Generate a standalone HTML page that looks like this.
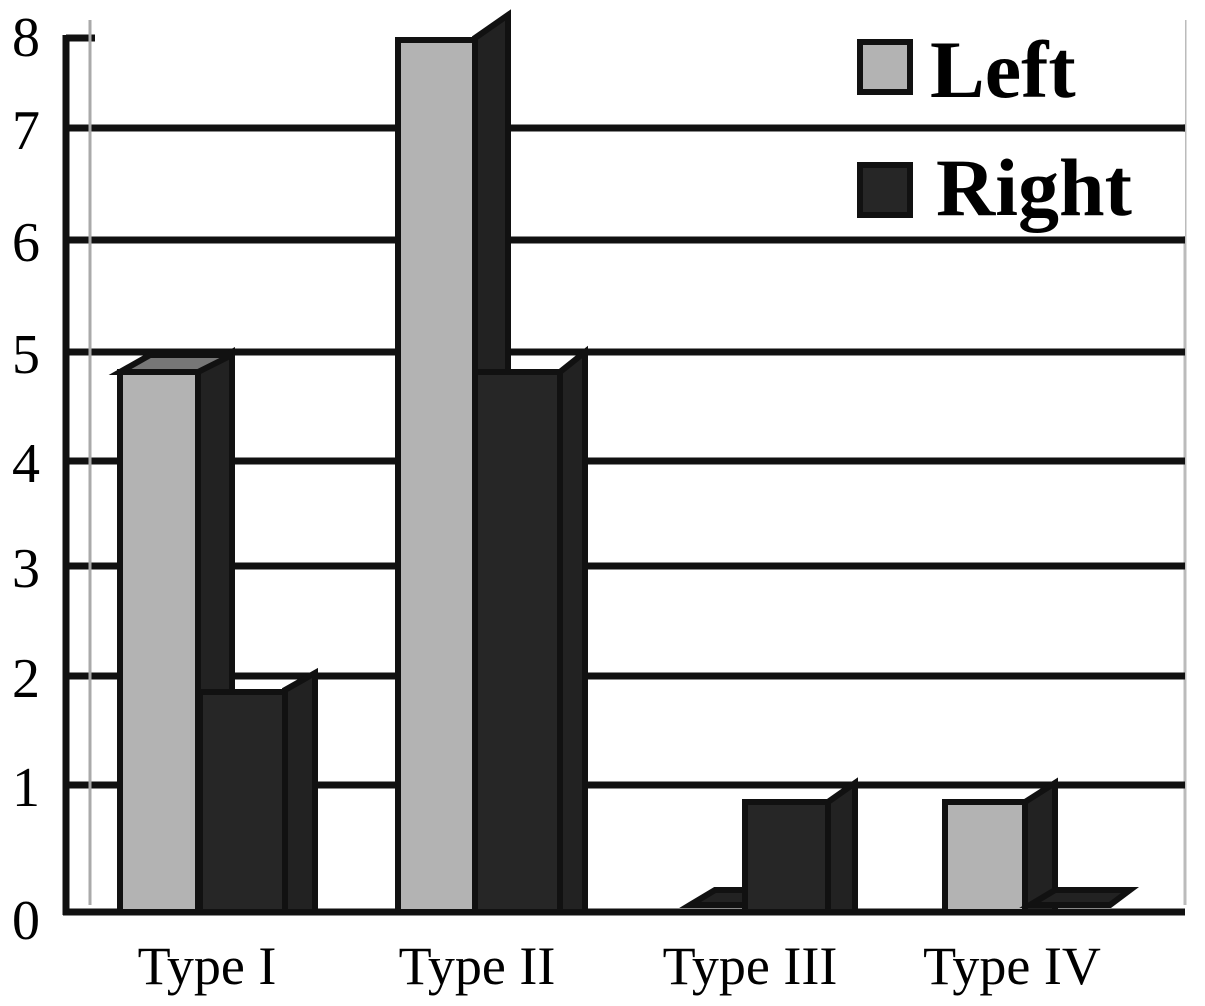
<!DOCTYPE html>
<html><head><style>body{margin:0;background:#fff}svg{display:block}</style></head><body>
<svg width="1205" height="1006" xmlns="http://www.w3.org/2000/svg" font-family="Liberation Serif, serif">
<rect width="1205" height="1006" fill="#fff"/>
<line x1="1185" y1="20" x2="1185" y2="905" stroke="#bbb" stroke-width="3"/>
<g stroke="#111" stroke-width="7">
<line x1="66" y1="128" x2="1185" y2="128"/><line x1="66" y1="240" x2="1185" y2="240"/>
<line x1="66" y1="352" x2="1185" y2="352"/><line x1="66" y1="461" x2="1185" y2="461"/>
<line x1="66" y1="566" x2="1185" y2="566"/><line x1="66" y1="676" x2="1185" y2="676"/>
<line x1="66" y1="785" x2="1185" y2="785"/>
<line x1="66" y1="35" x2="66" y2="915"/><line x1="63" y1="912" x2="1185" y2="912"/>
<line x1="66" y1="38" x2="95" y2="38"/>
</g>
<line x1="90" y1="20" x2="90" y2="905" stroke="#aaa" stroke-width="3"/>
<g stroke="#111" stroke-width="6">
<polygon points="198,370 232,352 232,912 198,912" fill="#222"/>
<rect x="120" y="372" width="78" height="540" fill="#b3b3b3"/>
<polygon points="120,372 150,355 232,355 198,372" fill="#777"/>
<polygon points="285,690 315,673 315,912 285,912" fill="#222"/>
<rect x="200" y="692" width="85" height="220" fill="#262626"/>
<polygon points="475,38 508,15 508,912 475,912" fill="#222"/>
<rect x="398" y="40" width="77" height="872" fill="#b3b3b3"/>
<polygon points="560,372 585,352 585,912 560,912" fill="#222"/>
<rect x="475" y="372" width="85" height="540" fill="#262626"/>
<polygon points="828,802 855,783 855,912 828,912" fill="#222"/>
<rect x="745" y="802" width="83" height="110" fill="#262626"/>
<polygon points="1025,802 1055,783 1055,912 1025,912" fill="#222"/>
<rect x="945" y="802" width="80" height="110" fill="#b3b3b3"/>
<polygon points="1030,905 1055,890 1130,890 1110,905" fill="#222"/>
<polygon points="690,905 715,890 745,890 745,905" fill="#222"/>
</g>
<rect x="850" y="20" width="335" height="104" fill="#fff"/>
<rect x="850" y="132" width="335" height="104" fill="#fff"/>
<rect x="860" y="42" width="50" height="50" fill="#b3b3b3" stroke="#111" stroke-width="6"/>
<rect x="860" y="165" width="50" height="50" fill="#262626" stroke="#111" stroke-width="6"/>
<text x="930" y="97" font-size="82" font-weight="bold">Left</text>
<text x="936" y="215" font-size="82" font-weight="bold">Right</text>
<g font-size="56" text-anchor="middle">
<text x="26" y="56">8</text><text x="26" y="149">7</text><text x="26" y="261">6</text>
<text x="26" y="373">5</text><text x="26" y="482">4</text><text x="26" y="587">3</text>
<text x="26" y="697">2</text><text x="26" y="806">1</text><text x="26" y="939">0</text>
</g>
<g font-size="54" text-anchor="middle">
<text x="207" y="984">Type I</text><text x="477" y="984">Type II</text>
<text x="750" y="984">Type III</text><text x="1012" y="984">Type IV</text>
</g>
</svg>
</body></html>
